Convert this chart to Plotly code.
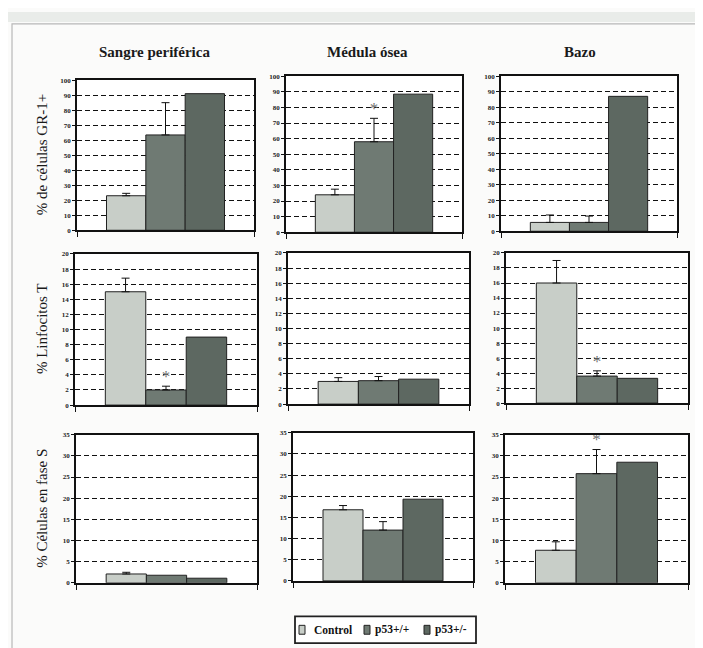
import plotly.graph_objects as go

W, H = 703, 648

genotypes = ["Control", "p53+/+", "p53+/-"]
colors = ["#c8cec8", "#6f7a73", "#5d6861"]
tissues = ["Sangre periférica", "Médula ósea", "Bazo"]
measures = ["% de células GR-1+", "% Linfocitos T", "% Células en fase S"]

# means per tissue (Sangre, Médula, Bazo) x genotype (Control, p53+/+, p53+/-)
gr1_means = [[23, 63.5, 91], [24, 58, 88.5], [5.7, 5.7, 87]]
gr1_errs = [[1.6, 21.5, None], [3.6, 15, None], [4.8, 4.1, None]]
gr1_sig = [[0, 0, 0], [0, 1, 0], [0, 0, 0]]

linf_means = [[15, 2.0, 9.0], [3.0, 3.1, 3.3], [16, 3.6, 3.3]]
linf_errs = [[1.8, 0.5, None], [0.5, 0.55, None], [3.0, 0.7, None]]
linf_sig = [[0, 1, 0], [0, 0, 0], [0, 1, 0]]

sphase_means = [[2.1, 1.8, 1.1], [16.8, 12.0, 19.3], [7.7, 25.8, 28.5]]
sphase_errs = [[0.4, None, None], [1.0, 2.0, None], [2.0, 5.7, None]]
sphase_sig = [[0, 0, 0], [0, 0, 0], [0, 1, 0]]

y_max = [100, 20, 35]
y_dtick = [10, 2, 5]

rows = [(gr1_means, gr1_errs, gr1_sig), (linf_means, linf_errs, linf_sig),
        (sphase_means, sphase_errs, sphase_sig)]

# panel pixel boxes (left, right, top, bottom)
boxes = [
    [(69, 246, 69, 221), (278, 454, 65, 223), (493, 669, 65, 222)],
    [(67, 249, 245, 398), (280, 461, 244, 397), (498, 680, 244, 396)],
    [(68, 249, 428, 578), (285, 465, 426, 576), (497, 680, 428, 578)],
]

fig = go.Figure()
layout = {}
serif = "Liberation Serif, DejaVu Serif, serif"
k = 0
for r, (means, errs, sig) in enumerate(rows):
    for c in range(3):
        k += 1
        xa = "x" if k == 1 else f"x{k}"
        ya = "y" if k == 1 else f"y{k}"
        for g in range(3):
            e = errs[c][g]
            fig.add_trace(go.Bar(
                x=[g], y=[means[c][g]], width=1,
                name=genotypes[g], showlegend=False,
                marker=dict(color=colors[g], line=dict(color="#222", width=1)),
                error_y=dict(type="data", symmetric=False,
                             array=[e], arrayminus=[0],
                             color="#111", thickness=1, width=4,
                             visible=e is not None),
                xaxis=xa, yaxis=ya, hoverinfo="skip",
            ))
            if sig[c][g]:
                fig.add_trace(go.Scatter(
                    x=[g], y=[means[c][g] + (e or 0)], mode="text", text=["*"],
                    textposition="top center",
                    textfont=dict(family=serif, size=17, color="#707070"),
                    showlegend=False, xaxis=xa, yaxis=ya, hoverinfo="skip"))
        L, R, T, B = boxes[r][c]
        xkey = "xaxis" if k == 1 else f"xaxis{k}"
        ykey = "yaxis" if k == 1 else f"yaxis{k}"
        layout[xkey] = dict(domain=[L / W, R / W], anchor=ya, range=[-1.25, 3.25],
                            tickvals=[-1.25, 3.25], ticks="outside", ticklen=5,
                            tickcolor="#111", tickwidth=1.2,
                            showticklabels=False, showgrid=False, zeroline=False,
                            showline=True, linecolor="#111", linewidth=1.6, mirror=True)
        layout[ykey] = dict(domain=[1 - B / H, 1 - T / H], anchor=xa,
                            range=[0, y_max[r]], dtick=y_dtick[r],
                            ticks="outside", ticklen=3, tickcolor="#111",
                            tickfont=dict(family=serif, size=7, color="#222", weight="bold"),
                            showgrid=True, gridcolor="#111", gridwidth=1,
                            griddash="5px,3px", zeroline=False,
                            showline=True, linecolor="#111", linewidth=1.6, mirror=True)

annotations = []
title_x = [146, 359, 572]
for c, t in enumerate(tissues):
    annotations.append(dict(text=t, x=title_x[c] / W, y=1 - 40 / H, xref="paper", yref="paper",
                            showarrow=False, xanchor="center", yanchor="middle",
                            font=dict(family=serif, size=15, color="#1a1a1a", weight="bold")))
meas_y = [145, 321, 503]
for r, m in enumerate(measures):
    annotations.append(dict(text=m, x=34 / W, y=1 - meas_y[r] / H, xref="paper", yref="paper",
                            showarrow=False, textangle=-90, xanchor="center", yanchor="middle",
                            font=dict(family=serif, size=15, color="#1a1a1a")))

shapes = [
    dict(type="rect", xref="paper", yref="paper", x0=0, x1=1, y0=1 - 10 / H, y1=1,
         fillcolor="#e9ece9", line=dict(width=0), layer="below"),
    dict(type="rect", xref="paper", yref="paper", x0=4 / W, x1=698 / W,
         y0=1 - 645 / H, y1=1 - 12 / H, line=dict(color="#b8b8b8", width=1.2),
         fillcolor="rgba(0,0,0,0)", layer="below"),
    # legend box
    dict(type="rect", xref="paper", yref="paper", x0=287 / W, x1=468 / W,
         y0=1 - 639 / H, y1=1 - 612 / H, line=dict(color="#222", width=1.8),
         fillcolor="white"),
]

# custom compact legend (swatch + label per genotype)
legend_swatch_x = [291, 356, 416]
legend_cy = 625.5
for g, name in enumerate(genotypes):
    sx = legend_swatch_x[g]
    shapes.append(dict(type="rect", xref="paper", yref="paper",
                       x0=sx / W, x1=(sx + 6) / W,
                       y0=1 - (legend_cy + 4.5) / H, y1=1 - (legend_cy - 4.5) / H,
                       fillcolor=colors[g], line=dict(color="#222", width=1)))
    annotations.append(dict(text=name, x=(sx + 9 + (4 if g == 0 else 0)) / W, y=1 - legend_cy / H,
                            xref="paper", yref="paper", showarrow=False,
                            xanchor="left", yanchor="middle",
                            font=dict(family=serif, size=11.5, color="#111", weight="bold")))

fig.update_layout(
    **layout,
    width=W, height=H, margin=dict(l=0, r=0, t=0, b=0),
    paper_bgcolor="#fbfbfa", plot_bgcolor="white",
    barmode="overlay", annotations=annotations, shapes=shapes,
    showlegend=False,
)

fig.write_html("out.html")
